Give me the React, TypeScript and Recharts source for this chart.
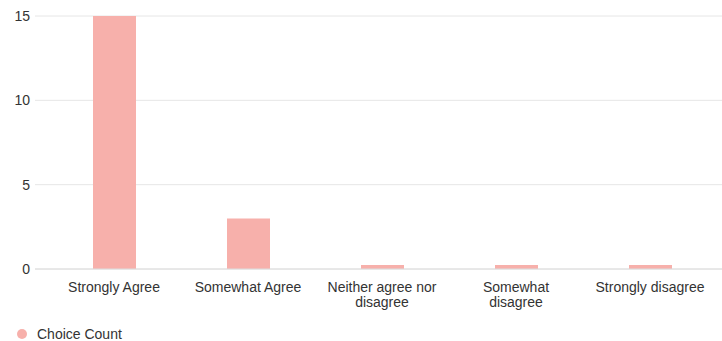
import { BarChart, Bar, XAxis, YAxis, CartesianGrid, Legend } from "recharts";

const categories = [
  "Strongly Agree",
  "Somewhat Agree",
  "Neither agree nor disagree",
  "Somewhat disagree",
  "Strongly disagree",
];
const tickLines = [
  ["Strongly Agree"],
  ["Somewhat Agree"],
  ["Neither agree nor", "disagree"],
  ["Somewhat", "disagree"],
  ["Strongly disagree"],
];
const choiceCount = [15, 3, 0, 0, 0];
const yTicks = [0, 5, 10, 15];

const data = categories.map((name, i) => ({ name, count: choiceCount[i] }));

const FONT = "Arial, 'Liberation Sans', sans-serif";

const XTick = (props: any) => {
  const { x, y, index } = props;
  const lines = tickLines[index] || [String(props.payload.value)];
  return (
    <text x={x} y={y + 15} textAnchor="middle" fill="#333" fontSize={14} fontFamily={FONT}>
      {lines.map((l, i) => (
        <tspan key={i} x={x} dy={i === 0 ? 0 : 15}>
          {l}
        </tspan>
      ))}
    </text>
  );
};

const LegendContent = () => (
  <div style={{ display: "flex", alignItems: "center", paddingLeft: 17, paddingTop: 11, fontFamily: FONT, fontSize: 14, lineHeight: "16px", color: "#333" }}>
    <svg width={10} height={10} style={{ marginRight: 10 }}>
      <circle cx={5} cy={5} r={5} fill="#f7b0ab" />
    </svg>
    Choice Count
  </div>
);

export default function App() {
  return (
    <div style={{ position: "absolute", left: 0, top: 0, width: 722, height: 341, background: "#fff" }}>
      <BarChart width={722} height={341} data={data} margin={{ top: 16, right: 0, bottom: 0, left: 0 }}>
        <CartesianGrid vertical={false} stroke="#e6e6e6" />
        <XAxis
          dataKey="name"
          interval={0}
          height={46}
          padding={{ left: 12, right: 5 }}
          tickLine={false}
          axisLine={{ stroke: "#dcdcdc" }}
          tick={<XTick />}
        />
        <YAxis
          width={35}
          domain={[0, 15]}
          ticks={yTicks}
          tickLine={false}
          axisLine={false}
          tickSize={2}
          tickMargin={3}
          tick={{ fill: "#333", fontSize: 14, fontFamily: FONT }}
        />
        <Legend verticalAlign="bottom" align="left" height={26} content={<LegendContent />} />
        <Bar dataKey="count" fill="#f7b0ab" barSize={43} minPointSize={4} isAnimationActive={false} />
      </BarChart>
    </div>
  );
}
